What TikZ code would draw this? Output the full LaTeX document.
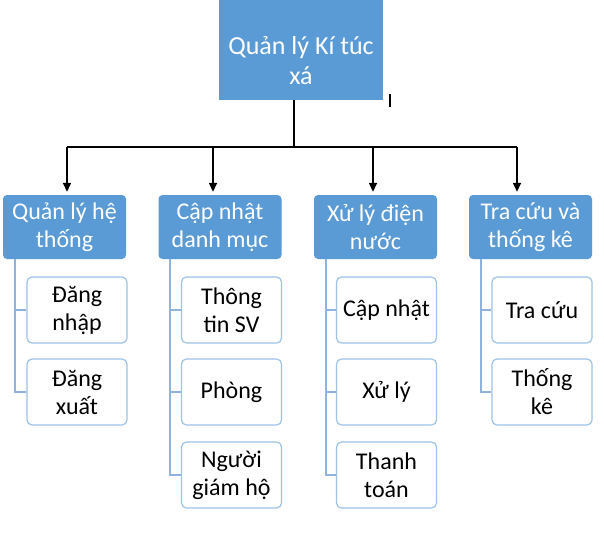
\documentclass[tikz,border=0pt]{standalone}
\usepackage{fontspec}
\setmainfont{Carlito}
\usetikzlibrary{arrows.meta}
\definecolor{mainblue}{HTML}{5B9BD5}
\definecolor{lineblue}{HTML}{8FB3DC}
\definecolor{edgeblue}{HTML}{9DC3E6}
\begin{document}
\begin{tikzpicture}[x=1pt,y=-1pt,
  txt/.style={font=\fontsize{24}{28}\selectfont, align=center, inner sep=0pt},
  rootbox/.style={txt, font=\fontsize{26}{30}\selectfont, fill=mainblue, text=white, minimum width=164pt, minimum height=78pt},
  catbox/.style={txt, fill=mainblue, text=white, rounded corners=4pt, minimum width=123pt, minimum height=64pt},
  leafbox/.style={txt, draw=edgeblue, line width=1.2pt, fill=white, text=black, rounded corners=5pt, minimum width=100pt, minimum height=66pt},
  conn/.style={black, line width=1.6pt},
  arr/.style={conn, -{Triangle[width=8pt,length=9pt]}, shorten >=3pt},
  tree/.style={lineblue, line width=1.3pt}]
\useasboundingbox (0,0) rectangle (604,535);
\fill[white] (0,0) rectangle (604,535);
% root (its box runs on above the text, to the top edge)
\coordinate (top) at (0,0);
\node[rootbox] (root) at (301,61) {Quản lý Kí túc\\xá};
\fill[mainblue] (root.north west) rectangle (root.north east |- top);
\coordinate (mark1) at (390,94);
\coordinate (mark2) at (390,107);
\draw[black, line width=1.2pt] (mark1) -- (mark2);
% categories
\node[catbox] (c1) at (64.5,227) {Quản lý hệ\\thống};
\node[catbox] (c2) at (220,227) {Cập nhật\\danh mục};
\node[catbox] (c3) at (375.5,227) {Xử lý điện\\nước};
\node[catbox] (c4) at (530.5,227) {Tra cứu và\\thống kê};
% leaves
\node[leafbox] (l11) at (77,310) {Đăng\\nhập};
\node[leafbox] (l12) at (77,392) {Đăng\\xuất};
\node[leafbox] (l21) at (231.5,310) {Thông\\tin SV};
\node[leafbox] (l22) at (231.5,392) {Phòng};
\node[leafbox] (l23) at (231.5,475) {Người\\giám hộ};
\node[leafbox] (l31) at (386.5,310) {Cập nhật};
\node[leafbox] (l32) at (386.5,392) {Xử lý};
\node[leafbox] (l33) at (386.5,475) {Thanh\\toán};
\node[leafbox] (l41) at (542,310) {Tra cứu};
\node[leafbox] (l42) at (542,392) {Thống\\kê};
% bus
\coordinate (bus) at (294,147);
\coordinate (a1) at (67,147);
\coordinate (a2) at (213,147);
\coordinate (a3) at (373,147);
\coordinate (a4) at (517,147);
\draw[conn] (root.south -| bus) -- (bus);
\draw[conn] (a1) -- (a4);
\draw[arr] (a1) -- (c1.north -| a1);
\draw[arr] (a2) -- (c2.north -| a2);
\draw[arr] (a3) -- (c3.north -| a3);
\draw[arr] (a4) -- (c4.north -| a4);
% trees
\coordinate (v1) at (15,0);
\coordinate (v2) at (170,0);
\coordinate (v3) at (326,0);
\coordinate (v4) at (481,0);
\draw[tree] (c1.south -| v1) |- (l12.west);
\draw[tree] (c1.south -| v1) |- (l11.west);
\draw[tree] (c2.south -| v2) |- (l23.west);
\draw[tree] (c2.south -| v2) |- (l22.west);
\draw[tree] (c2.south -| v2) |- (l21.west);
\draw[tree] (c3.south -| v3) |- (l33.west);
\draw[tree] (c3.south -| v3) |- (l32.west);
\draw[tree] (c3.south -| v3) |- (l31.west);
\draw[tree] (c4.south -| v4) |- (l42.west);
\draw[tree] (c4.south -| v4) |- (l41.west);
\end{tikzpicture}
\end{document}
